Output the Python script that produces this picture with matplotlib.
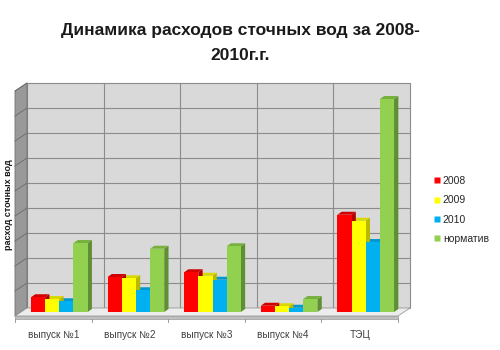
import matplotlib
matplotlib.use('Agg')
import matplotlib.pyplot as plt
import numpy as np
from matplotlib.patches import Polygon, Rectangle
from matplotlib.lines import Line2D

plt.rcParams['font.family'] = ['Liberation Sans', 'DejaVu Sans']

categories = ['выпуск №1', 'выпуск №2', 'выпуск №3', 'выпуск №4', 'ТЭЦ']
series_names = ['2008', '2009', '2010', 'норматив']
v2008 = [0.59, 1.40, 1.59, 0.25, 3.89]
v2009 = [0.52, 1.35, 1.45, 0.23, 3.65]
v2010 = [0.43, 0.87, 1.29, 0.17, 2.80]
v_norm = [2.76, 2.53, 2.63, 0.52, 8.52]
series = [v2008, v2009, v2010, v_norm]

colors = ['#ff0000', '#ffff00', '#00b0f0', '#92d050']
side_colors = ['#b00000', '#b8b800', '#0080b0', '#5f8f32']
top_colors = ['#d00000', '#d8d800', '#0098d0', '#78b040']

y_max = 9
W, D = 6, 4      # offset of the back wall from the bar plane, px
bw_dx, bw_dy = 4.3, 3.0   # bar depth, px

fig = plt.figure(figsize=(5, 3.5), dpi=100)
ax = fig.add_axes([21 / 500, 38 / 350, 383 / 500, 225 / 350])
ax.set_xlim(-0.5, len(categories) - 0.5)
ax.set_ylim(0, y_max)
ax.axis('off')


def shifted(points, dx, dy):
    # data points -> shifted by dx, dy pixels -> back to data
    disp = ax.transData.transform(np.asarray(points, dtype=float))
    disp = disp + np.array([dx, dy])
    return ax.transData.inverted().transform(disp)


x0, x1 = -0.5, len(categories) - 0.5

# back wall
back = shifted([[x0, 0], [x1, 0], [x1, y_max], [x0, y_max]], W, D)
ax.add_patch(Polygon(back, closed=True, facecolor='#d9d9d9', edgecolor='#8c8c8c',
                     lw=0.8, clip_on=False, zorder=0))
for g in range(1, y_max):
    ln = shifted([[x0, g], [x1, g]], W, D)
    ax.plot(ln[:, 0], ln[:, 1], color='#8c8c8c', lw=0.8, clip_on=False, zorder=1)
for k in range(1, len(categories)):
    ln = shifted([[k - 0.5, 0], [k - 0.5, y_max]], W, D)
    ax.plot(ln[:, 0], ln[:, 1], color='#8c8c8c', lw=0.8, clip_on=False, zorder=1)

# left side wall
lw_back = shifted([[x0, 0], [x0, y_max]], W, D)
lw_front = shifted([[x0, y_max], [x0, 0]], -W, -D)
ax.add_patch(Polygon(np.vstack([lw_back, lw_front]), closed=True, facecolor='#999999',
                     edgecolor='#707070', lw=0.6, clip_on=False, zorder=0))
for g in range(0, y_max + 1):
    ln = np.vstack([shifted([[x0, g]], W, D), shifted([[x0, g]], -W, -D)])
    ax.plot(ln[:, 0], ln[:, 1], color='#6a6a6a', lw=0.6, clip_on=False, zorder=1)

# floor
fl_back = shifted([[x1, 0], [x0, 0]], W, D)
fl_front = shifted([[x0, 0], [x1, 0]], -W, -D)
ax.add_patch(Polygon(np.vstack([fl_front, fl_back]), closed=True, facecolor='#ececec',
                     edgecolor='#9a9a9a', lw=0.6, clip_on=False, zorder=1))
strip_top = shifted([[x0, 0], [x1, 0]], -W, -D)
strip_bot = shifted([[x1, 0], [x0, 0]], -W, -D - 2.5)
ax.add_patch(Polygon(np.vstack([strip_top, strip_bot]), closed=True, facecolor='#bfbfbf',
                     edgecolor='#9a9a9a', lw=0.5, clip_on=False, zorder=1))
for k in range(len(categories) + 1):
    ln = np.vstack([shifted([[k - 0.5, 0]], -W, -D - 2.5), shifted([[k - 0.5, 0]], -W, -D - 6)])
    ax.plot(ln[:, 0], ln[:, 1], color='#8c8c8c', lw=0.6, clip_on=False, zorder=1)

# bars
bar_w = 0.185
offsets = (np.arange(len(series)) - (len(series) - 1) / 2) * bar_w
xs = np.arange(len(categories))
for i, vals in enumerate(series):
    for j, h in enumerate(vals):
        left = xs[j] + offsets[i] - bar_w / 2
        right = left + bar_w
        z = 3 + j * 0.01 - i * 0.001
        side = np.vstack([[[right, 0], [right, h]],
                          shifted([[right, h], [right, 0]], bw_dx, bw_dy)])
        ax.add_patch(Polygon(side, closed=True, facecolor=side_colors[i],
                             edgecolor='none', zorder=z))
        top = np.vstack([[[left, h], [right, h]],
                         shifted([[right, h], [left, h]], bw_dx, bw_dy)])
        ax.add_patch(Polygon(top, closed=True, facecolor=top_colors[i],
                             edgecolor='none', zorder=z))
        ax.add_patch(Rectangle((left, 0), bar_w, h, facecolor=colors[i],
                               edgecolor='none', zorder=3.5 + j * 0.01))

# category labels
for j, name in enumerate(categories):
    p = shifted([[xs[j], 0]], -W, -D - 19)[0]
    ax.text(p[0], p[1], name, ha='center', va='center', fontsize=7.2,
            color='#404040', clip_on=False)

fig.text(0.48, 0.913, 'Динамика расходов сточных вод за 2008-', ha='center',
         va='center', fontsize=12.5, fontweight='bold', color='#1a1a1a')
fig.text(0.48, 0.842, '2010г.г.', ha='center', va='center', fontsize=12.5,
         fontweight='bold', color='#1a1a1a')
fig.text(0.018, 0.415, 'расход сточных вод', rotation=90, ha='center', va='center',
         fontsize=6.5, fontweight='bold', color='#1a1a1a')

handles = [Line2D([], [], marker='s', linestyle='none', markersize=5,
                  markerfacecolor=c, markeredgecolor='none') for c in colors]
fig.legend(handles, series_names, loc='center left', bbox_to_anchor=(0.844, 0.4),
           frameon=False, fontsize=7.5, handletextpad=0.1, labelspacing=0.9,
           handlelength=1.0, labelcolor='#262626')

fig.savefig('out.png', dpi=100)
